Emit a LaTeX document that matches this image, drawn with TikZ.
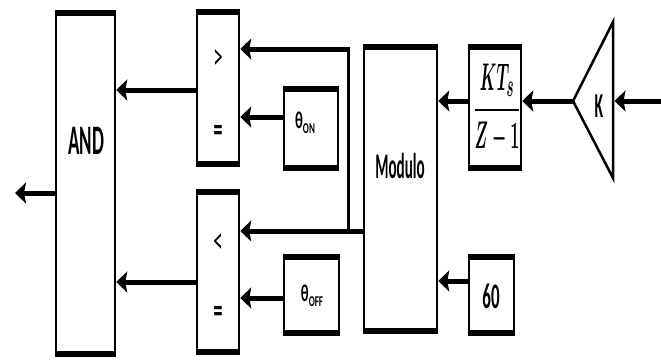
\documentclass[tikz,border=0pt]{standalone}
\usepackage{graphicx}
\usepackage{amsmath}
\usepackage{fontspec}
\setmainfont{Carlito}
\usetikzlibrary{arrows.meta}
\newcommand\sqz[2]{\scalebox{#1}[1]{#2}}
\tikzset{
  blk/.style={draw, line width=2.5pt, inner sep=0pt, fill=white},
  arr/.style={line width=5pt, -{Stealth[length=11pt,width=21pt,inset=2pt]}},
  lbl/.style={inner sep=0pt},
}
\begin{document}
\begin{tikzpicture}[x=1pt,y=-1pt]
\useasboundingbox (0,0) rectangle (661,360);
% boxes
\node[blk, minimum width=59pt, minimum height=345pt] (and) at (85.5,183.5) {};
\node[blk, minimum width=42pt, minimum height=155pt] (c1) at (218,88) {};
\node[blk, minimum width=42pt, minimum height=163pt] (c2) at (218,272) {};
\node[blk, minimum width=54pt, minimum height=82pt] (thon) at (311,128.5) {};
\node[blk, minimum width=55pt, minimum height=79pt] (thoff) at (311.5,295) {};
\node[blk, minimum width=73pt, minimum height=287pt] (mod) at (400.5,189) {};
\node[blk, minimum width=52pt, minimum height=124pt] (kt) at (495,107.5) {};
\node[blk, minimum width=45pt, minimum height=79pt] (sixty) at (491.5,295) {};
\foreach \n in {and,c1,c2,thon,thoff,mod,kt,sixty}{
  \draw[line width=6pt] ([yshift=-3pt]\n.north west) -- ([yshift=-3pt]\n.north east);
  \draw[line width=6pt] ([yshift=3pt]\n.south west) -- ([yshift=3pt]\n.south east);
}
% triangle
\coordinate (ta) at (573,101);
\coordinate (tt) at (613,22);
\coordinate (tb) at (613,178);
\draw[line width=2.5pt, line join=miter] (ta) -- (tt) -- (tb) -- cycle;
% labels
\node[lbl] (andtxt) at (86,141) {\sqz{0.45}{\fontsize{42}{42}\selectfont\bfseries AND}};
\node[lbl] (modtxt) at (400,166) {\sqz{0.42}{\fontsize{36}{36}\selectfont\bfseries Modulo}};
\node[lbl] (thontxt) at (305,123) {\sqz{0.6}{\fontsize{24}{24}\selectfont\bfseries θ\raisebox{-5pt}{\fontsize{15}{15}\selectfont ON}}};
\node[lbl] (thofftxt) at (312,296) {\sqz{0.6}{\fontsize{24}{24}\selectfont\bfseries θ\raisebox{-5pt}{\fontsize{15}{15}\selectfont OFF}}};
\node[lbl] (sixtytxt) at (491,296) {\sqz{0.47}{\fontsize{36}{36}\selectfont\bfseries 60}};
\node[lbl] (ktxt) at (599,106) {\sqz{0.45}{\fontsize{35}{35}\selectfont\bfseries K}};
\node[lbl] (kttxt) at (497,109) {\scalebox{0.64}[1.55]{\fontsize{24.88}{24.88}\selectfont\boldmath $\dfrac{KT_s}{Z-1}$}};
\node[lbl] (gt) at (218,60) {\sqz{0.5}{\fontsize{38}{38}\selectfont >}};
\node[lbl] (lt) at (218,244) {\sqz{0.5}{\fontsize{38}{38}\selectfont <}};
\node[lbl] (eq1) at (218,133) {\sqz{0.5}{\fontsize{36}{36}\selectfont\bfseries =}};
\node[lbl] (eq2) at (218,314) {\sqz{0.5}{\fontsize{36}{36}\selectfont\bfseries =}};
% coordinates
\coordinate (inp) at (661,101);
\coordinate (tin) at (614.5,101);
\coordinate (y281) at (0,281);
\coordinate (y117) at (0,117);
\coordinate (y298) at (0,298);
\coordinate (y90) at (0,90);
\coordinate (y282) at (0,282);
\coordinate (br) at (348,231);
\coordinate (brtop) at (348,49);
\coordinate (out) at (15,193);
% connectors
\draw[arr] (inp) -- (tin);
\draw[arr] (ta) -- (kt.east |- ta);
\draw[arr] (kt.west |- ta) -- (mod.east |- ta);
\draw[arr] (sixty.west |- y281) -- (mod.east |- y281);
\draw[arr] (mod.west |- br) -- (c2.east |- br);
\draw[line width=3pt, shorten <=-2.5pt] (brtop) -- (br);
\draw[arr, shorten <=-1.5pt] (brtop) -- (c1.east |- brtop);
\draw[arr] (thon.west |- y117) -- (c1.east |- y117);
\draw[arr] (thoff.west |- y298) -- (c2.east |- y298);
\draw[arr] (c1.west |- y90) -- (and.east |- y90);
\draw[arr] (c2.west |- y282) -- (and.east |- y282);
\draw[arr] (and.west |- out) -- (out);
\end{tikzpicture}
\end{document}
